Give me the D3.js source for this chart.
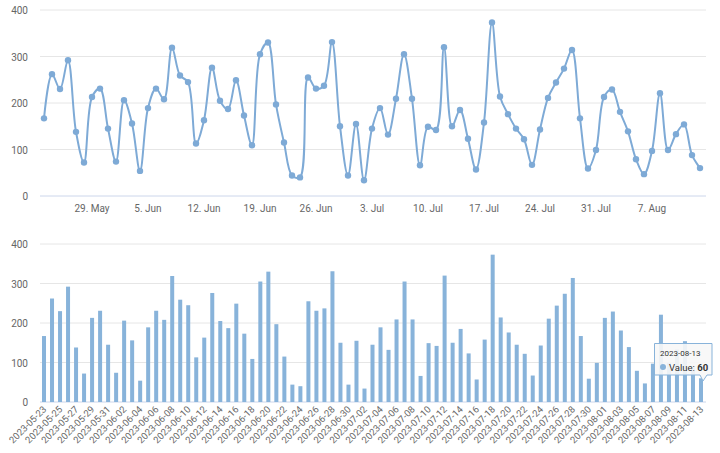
<!DOCTYPE html>
<html>
<head>
<meta charset="utf-8">
<script src="https://cdn.jsdelivr.net/npm/d3@7"></script>
<style>
  body { margin: 0; background: #fff; }
  svg { font-family: Roboto, "Liberation Sans", sans-serif; }
</style>
</head>
<body>
<script>
var width = 720, height = 453;

var startDate = "2023-05-23";
var values = [167, 262, 230, 292, 138, 72, 213, 231, 145, 74,
  206, 156, 54, 189, 231, 208, 319, 259, 245, 113,
  163, 276, 205, 187, 249, 173, 109, 305, 330, 197,
  115, 44, 40, 255, 231, 237, 331, 150, 44, 155,
  34, 145, 189, 132, 209, 305, 209, 66, 149, 142,
  320, 150, 185, 123, 57, 158, 373, 214, 176, 145,
  122, 67, 143, 211, 244, 274, 314, 167, 59, 99,
  213, 229, 181, 139, 79, 47, 97, 221, 99, 133,
  154, 88, 60];
var yTicks = [0, 100, 200, 300, 400];

var parse = d3.timeParse("%Y-%m-%d");
var fmt = d3.timeFormat("%Y-%m-%d");
var day0 = parse(startDate);
var dates = values.map(function(v, i) { return d3.timeDay.offset(day0, i); });
var data = values.map(function(v, i) { return {date: dates[i], key: fmt(dates[i]), value: v}; });

var lineColor = "#7eaad6", barColor = "#88b3da";

var svg = d3.select("body").append("svg")
    .attr("width", width)
    .attr("height", height);

// ---- upper chart: spline ----
var x = d3.scaleTime().domain([dates[0], dates[dates.length - 1]]).range([44, 700]);
var y = d3.scaleLinear().domain([0, 400]).range([196, 10]);

var upper = svg.append("g");
upper.selectAll("line.grid").data(yTicks).enter().append("line")
    .attr("x1", 40).attr("x2", 706)
    .attr("y1", function(d) { return y(d); }).attr("y2", function(d) { return y(d); })
    .attr("stroke", function(d) { return d === 0 ? "#ccd6eb" : "#e6e6e6"; });
upper.selectAll("text.yl").data(yTicks).enter().append("text")
    .attr("x", 28).attr("y", function(d) { return y(d) + 4; })
    .attr("text-anchor", "end").attr("font-size", 10).attr("fill", "#666")
    .text(function(d) { return d; });

var weekly = d3.timeMonday.range(d3.timeDay.offset(dates[0], 1), dates[dates.length - 1]);
var tf = d3.timeFormat("%-d. %b");
upper.selectAll("text.xl").data(weekly).enter().append("text")
    .attr("x", function(d) { return x(d); }).attr("y", 212)
    .attr("text-anchor", "middle").attr("font-size", 10).attr("fill", "#666")
    .text(function(d) { return tf(d); });

var line = d3.line()
    .x(function(d) { return x(d.date); })
    .y(function(d) { return y(d.value); })
    .curve(d3.curveCatmullRom.alpha(0.5));
upper.append("path").datum(data)
    .attr("d", line).attr("fill", "none")
    .attr("stroke", lineColor).attr("stroke-width", 2);
upper.selectAll("circle").data(data).enter().append("circle")
    .attr("cx", function(d) { return x(d.date); })
    .attr("cy", function(d) { return y(d.value); })
    .attr("r", 3.2).attr("fill", lineColor);

// ---- lower chart: bars ----
var xb = d3.scaleBand().domain(data.map(function(d) { return d.key; })).range([38, 707]).padding(0.5);
var yb = d3.scaleLinear().domain([0, 400]).range([402, 244]);

var lower = svg.append("g");
lower.selectAll("line.grid").data(yTicks).enter().append("line")
    .attr("x1", 40).attr("x2", 706)
    .attr("y1", function(d) { return yb(d); }).attr("y2", function(d) { return yb(d); })
    .attr("stroke", function(d) { return d === 0 ? "#ccd6eb" : "#e6e6e6"; });
lower.selectAll("text.yl").data(yTicks).enter().append("text")
    .attr("x", 28).attr("y", function(d) { return yb(d) + 4; })
    .attr("text-anchor", "end").attr("font-size", 10).attr("fill", "#666")
    .text(function(d) { return d; });

lower.selectAll("rect").data(data).enter().append("rect")
    .attr("x", function(d) { return xb(d.key); })
    .attr("width", xb.bandwidth())
    .attr("y", function(d) { return yb(d.value); })
    .attr("height", function(d) { return yb(0) - yb(d.value); })
    .attr("fill", barColor);

lower.selectAll("text.xl").data(data.filter(function(d, i) { return i % 2 === 0; })).enter().append("text")
    .attr("transform", function(d) {
      return "translate(" + (xb(d.key) + xb.bandwidth() / 2 + 3) + ",410) rotate(-45)";
    })
    .attr("text-anchor", "end").attr("font-size", 9.5).attr("fill", "#666")
    .text(function(d) { return d.key; });

// ---- tooltip on last bar ----
var last = data[data.length - 1];
var tip = svg.append("g").attr("transform", "translate(654,343)");
tip.append("path")
    .attr("d", "M0.5,0.5 H58 V32 H53 L49,38 L46,32 H0.5 Z")
    .attr("fill", "rgba(247,247,247,0.9)").attr("stroke", barColor).attr("stroke-width", 1);
tip.append("text").attr("x", 6).attr("y", 13).attr("font-size", 8).attr("fill", "#333").text(last.key);
tip.append("circle").attr("cx", 9).attr("cy", 24).attr("r", 3).attr("fill", barColor);
var t2 = tip.append("text").attr("x", 15).attr("y", 27.5).attr("font-size", 9.5).attr("fill", "#333");
t2.append("tspan").text("Value: ");
t2.append("tspan").attr("font-weight", "bold").text(last.value);
</script>
</body>
</html>
